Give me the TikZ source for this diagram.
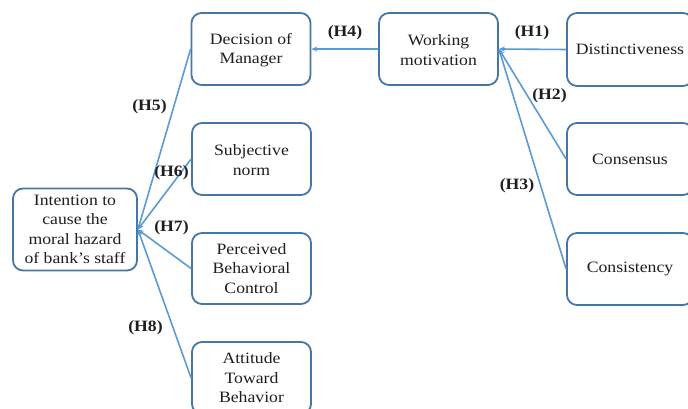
\documentclass[tikz,border=0pt]{standalone}
\usepackage{fontspec}
\setmainfont[FakeStretch=1.12]{Liberation Serif}
\usetikzlibrary{arrows.meta}
\definecolor{boxcol}{RGB}{70,118,165}
\definecolor{linecol}{RGB}{91,155,213}
\definecolor{txtcol}{RGB}{30,30,30}
\begin{document}
\begin{tikzpicture}[x=1pt,y=-1pt,
  box/.style={draw=boxcol,line width=1.8pt,rounded corners=10pt,minimum width=119pt,minimum height=72pt,align=center,text=txtcol,font=\fontsize{15.8}{19.5}\selectfont,inner sep=0pt},
  hlabel/.style={font=\fontsize{15.8}{18}\selectfont\bfseries,text=txtcol,inner sep=0pt},
  conn/.style={draw=linecol,line width=1.6pt,-{Stealth[length=6pt,width=5pt]}}]
\useasboundingbox (0,0) rectangle (688,409);
\node[box,minimum width=124pt,minimum height=82pt] (intent) at (75,229.5) {Intention to\\cause the\\moral hazard\\of bank’s staff};
\node[box] (decision) at (251,49) {\strut Decision of\\Manager};
\node[box] (working) at (438.5,49) {\strut Working\\motivation};
\node[box,minimum width=126pt,minimum height=73pt] (distinct) at (630,49.5) {Distinctiveness};
\node[box,minimum width=126pt] (consensus) at (630,159) {Consensus};
\node[box,minimum width=126pt] (consistency) at (630,269) {Consistency};
\node[box] (subjective) at (251.5,159) {\strut Subjective\\norm};
\node[box,minimum height=71pt] (perceived) at (251.5,268.5) {Perceived\\Behavioral\\Control};
\node[box] (attitude) at (251.5,378) {Attitude\\Toward\\Behavior};
\draw[conn] (distinct.west) -- (working.east);
\draw[conn] (consensus.west) -- (working.east);
\draw[conn] (consistency.west) -- (working.east);
\draw[conn] (working.west) -- (decision.east);
\draw[conn] (decision.west) -- (intent.east);
\draw[conn] (subjective.west) -- (intent.east);
\draw[conn] (perceived.west) -- (intent.east);
\draw[conn] (attitude.west) -- (intent.east);
\node[hlabel] (h4) at (345,33) {(H4)};
\node[hlabel] (h1) at (532,33) {(H1)};
\node[hlabel] (h2) at (549.5,96) {(H2)};
\node[hlabel] (h3) at (517,186) {(H3)};
\node[hlabel] (h5) at (149.5,107) {(H5)};
\node[hlabel] (h6) at (171.5,173) {(H6)};
\node[hlabel] (h7) at (171.5,228) {(H7)};
\node[hlabel] (h8) at (145.5,328) {(H8)};
\end{tikzpicture}
\end{document}
